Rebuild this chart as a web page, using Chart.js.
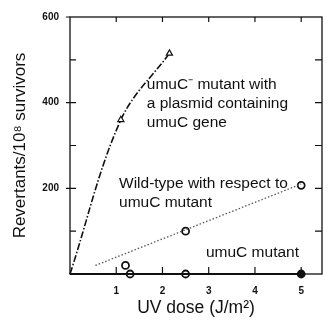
<!DOCTYPE html>
<html lang="en">
<head>
  <meta charset="UTF-8" />
  <title>umuC revertants vs UV dose</title>
  <script src="https://cdn.jsdelivr.net/npm/chart.js"></script>
  <style>
    body { margin: 0; background: #fff; }
    #wrap { width: 333px; height: 329px; }
  </style>
</head>
<body>
  <div id="wrap"><canvas id="myChart" width="333" height="329"></canvas></div>

<script>
  // umuC- mutant carrying a plasmid with umuC (triangles, dash-dot curve)
  const plasmidDose = [0, 1.1, 2.15];
  const plasmidRev = [0, 360, 515];

  // wild-type with respect to umuC (open circles + dotted fit)
  const wildDose = [1.2, 2.5, 5];
  const wildRev = [20, 100, 207];
  const wildFitDose = [0.55, 5];
  const wildFitRev = [20, 210];

  // umuC mutant (flat at zero)
  const umuDose = [1.3, 2.5, 5];
  const umuRev = [0, 0, 0];
  const umuLineDose = [0, 5];
  const umuLineRev = [0, 0];

  // axis ticks
  const xTicks = [1, 2, 3, 4, 5];
  const yLabelTicks = [200, 400, 600];

  // text labels on the plot
  const notes = [
    { lines: ['umuC\u207B mutant with', 'a plasmid containing', 'umuC gene'], x: 1.66, y: 442 },
    { lines: ['Wild-type with respect to', 'umuC mutant'], x: 1.06, y: 211 },
    { lines: ['umuC mutant'], x: 2.94, y: 49 }
  ];

  const pts = (xs, ys) => xs.map((x, i) => ({ x: x, y: ys[i] }));

  Chart.defaults.font.family = '"Liberation Sans", Arial, sans-serif';
  Chart.defaults.color = '#111';

  // frame + inward ticks, and the text notes
  const decor = {
    id: 'decor',
    afterDatasetsDraw(chart) {
      const { ctx, chartArea: a, scales: { x, y } } = chart;
      ctx.save();
      ctx.strokeStyle = '#111';
      ctx.lineWidth = 1.3;
      ctx.strokeRect(a.left, a.top, a.right - a.left, a.bottom - a.top);
      ctx.lineWidth = 1.2;
      ctx.beginPath();
      xTicks.forEach(v => {
        const px = x.getPixelForValue(v);
        ctx.moveTo(px, a.bottom); ctx.lineTo(px, a.bottom - 7);
        ctx.moveTo(px, a.top); ctx.lineTo(px, a.top + 5);
      });
      for (let v = 100; v < 600; v += 100) {
        const py = y.getPixelForValue(v);
        ctx.moveTo(a.left, py); ctx.lineTo(a.left + 6, py);
        ctx.moveTo(a.right, py); ctx.lineTo(a.right - 7, py);
      }
      yLabelTicks.forEach(v => {
        const py = y.getPixelForValue(v);
        ctx.moveTo(a.left, py); ctx.lineTo(a.left - 4, py);
      });
      ctx.stroke();

      ctx.fillStyle = '#111';
      ctx.font = '15.5px "Liberation Sans", Arial, sans-serif';
      ctx.textBaseline = 'middle';
      notes.forEach(n => {
        const px = x.getPixelForValue(n.x);
        const py = y.getPixelForValue(n.y);
        n.lines.forEach((t, i) => ctx.fillText(t, px, py + i * 19));
      });
      ctx.restore();
    }
  };

  const ctx = document.getElementById('myChart').getContext('2d');
  new Chart(ctx, {
    type: 'scatter',
    data: {
      datasets: [
        {
          data: pts(plasmidDose, plasmidRev),
          showLine: true,
          borderColor: '#111',
          borderWidth: 1.6,
          borderDash: [7, 2, 1.5, 2],
          tension: 0.35,
          pointStyle: 'triangle',
          pointRadius: ctx => ctx.dataIndex === 0 ? 0 : 3.5,
          pointBackgroundColor: '#fff',
          pointBorderColor: '#111',
          pointBorderWidth: 1.2
        },
        {
          data: pts(wildFitDose, wildFitRev),
          showLine: true,
          borderColor: '#555',
          borderWidth: 1.3,
          borderDash: [1.5, 2],
          pointRadius: 0
        },
        {
          data: pts(wildDose, wildRev),
          pointRadius: 3.5,
          pointBackgroundColor: '#fff',
          pointBorderColor: '#111',
          pointBorderWidth: 1.8
        },
        {
          data: pts(umuLineDose, umuLineRev),
          showLine: true,
          borderColor: '#111',
          borderWidth: 2.2,
          pointRadius: 0
        },
        {
          data: pts(umuDose, umuRev),
          pointRadius: 3.5,
          pointBackgroundColor: ctx => ctx.dataIndex === 2 ? '#111' : '#fff',
          pointBorderColor: '#111',
          pointBorderWidth: 1.8
        }
      ]
    },
    options: {
      responsive: false,
      animation: false,
      clip: false,
      layout: { padding: { top: 15, right: 11, left: 0, bottom: 0 } },
      plugins: { legend: { display: false }, tooltip: { enabled: false } },
      scales: {
        x: {
          type: 'linear',
          min: 0,
          max: 5.45,
          afterFit: s => { s.height = 55; },
          afterBuildTicks: s => { s.ticks = xTicks.map(v => ({ value: v })); },
          grid: { display: false, drawTicks: false },
          border: { display: false },
          ticks: { padding: 11, font: { size: 10, weight: 'bold' }, maxRotation: 0 },
          title: {
            display: true,
            text: 'UV dose (J/m\u00B2)',
            font: { size: 17.5 },
            padding: { top: 0, bottom: 10 }
          }
        },
        y: {
          min: 0,
          max: 600,
          afterFit: s => { s.width = 70; },
          afterBuildTicks: s => { s.ticks = yLabelTicks.map(v => ({ value: v })); },
          grid: { display: false, drawTicks: false },
          border: { display: false },
          ticks: { padding: 11, font: { size: 10, weight: 'bold' } },
          title: {
            display: true,
            text: 'Revertants/10\u2078 survivors',
            font: { size: 17 },
            padding: { top: 10, bottom: 0 }
          }
        }
      }
    },
    plugins: [decor]
  });
</script>
</body>
</html>
